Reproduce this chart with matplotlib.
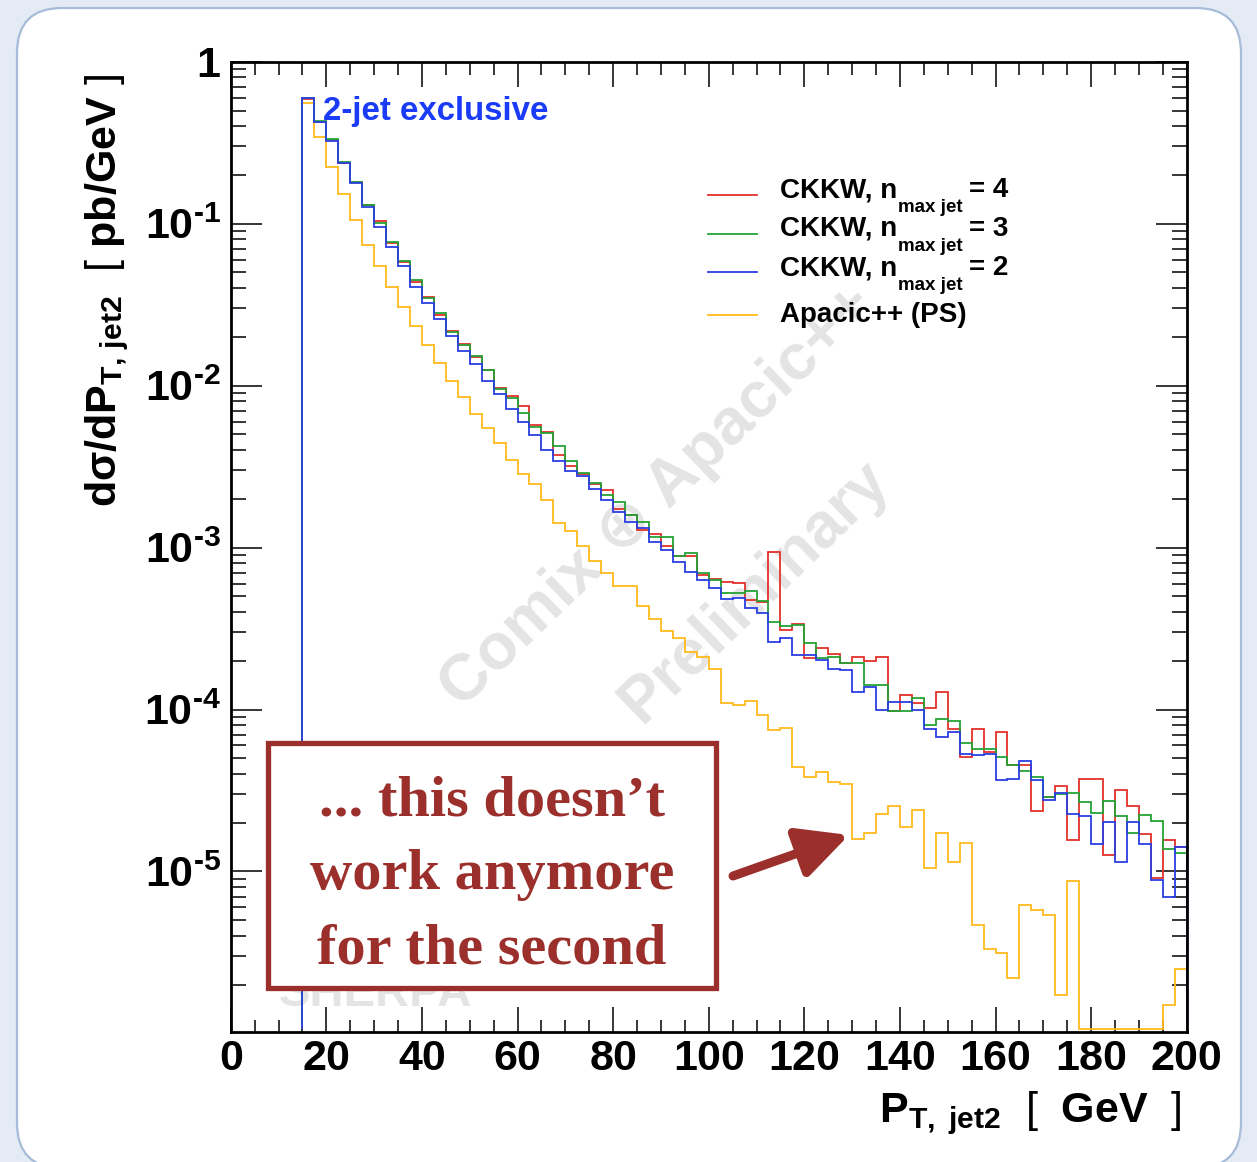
import numpy as np
import matplotlib.pyplot as plt
from matplotlib.lines import Line2D
from matplotlib.patches import FancyBboxPatch, Rectangle
from matplotlib.ticker import FixedLocator, FixedFormatter, LogLocator, NullFormatter, MultipleLocator

plt.rcParams['font.family'] = ['Liberation Sans', 'DejaVu Sans']
plt.rcParams['mathtext.fontset'] = 'custom'
plt.rcParams['mathtext.rm'] = 'Liberation Sans'
plt.rcParams['mathtext.it'] = 'Liberation Sans:italic'
plt.rcParams['mathtext.bf'] = 'Liberation Sans:bold'

# ---- histogram contents, dsigma/dpT of the second jet [pb/GeV], 2.5 GeV bins from 15 GeV ----
edges = np.arange(15.0, 200.01, 2.5)

ckkw4 = [0.589, 0.423, 0.327, 0.237, 0.181, 0.131, 0.104, 0.0756, 0.0580, 0.0438,
         0.0355, 0.0273, 0.0217, 0.0181, 0.0150, 0.0125, 0.00962, 0.00862, 0.00748, 0.00571,
         0.00521, 0.00375, 0.00320, 0.00284, 0.00247, 0.00228, 0.00172, 0.00159, 0.00128, 0.00121,
         1.02e-3, 8.86e-4, 8.84e-4, 6.76e-4, 6.39e-4, 6.12e-4, 6.06e-4, 4.76e-4, 4.63e-4, 9.42e-4,
         3.09e-4, 3.37e-4, 2.07e-4, 2.40e-4, 2.19e-4, 1.94e-4, 2.12e-4, 2.00e-4, 2.12e-4, 9.81e-5,
         1.23e-4, 1.10e-4, 1.02e-4, 1.29e-4, 7.57e-5, 5.10e-5, 7.57e-5, 5.48e-5, 7.28e-5, 4.53e-5,
         4.53e-5, 2.37e-5, 2.90e-5, 3.36e-5, 1.56e-5, 3.70e-5, 3.70e-5, 1.26e-5, 3.18e-5, 2.53e-5,
         1.70e-5, 9.09e-6, 1.56e-5, 1.42e-5]

ckkw3 = [0.600, 0.428, 0.332, 0.239, 0.181, 0.1305, 0.1014, 0.0774, 0.0591, 0.0447,
         0.0346, 0.0280, 0.0215, 0.0179, 0.0152, 0.0125, 0.00960, 0.00844, 0.00675, 0.00557,
         0.00507, 0.00424, 0.00343, 0.00287, 0.00249, 0.00211, 0.00190, 0.00159, 0.00144, 1.156e-3,
         1.156e-3, 8.89e-4, 9.21e-4, 7.01e-4, 6.30e-4, 5.24e-4, 5.24e-4, 5.38e-4, 4.69e-4, 3.48e-4,
         3.27e-4, 3.32e-4, 2.58e-4, 2.07e-4, 2.12e-4, 1.94e-4, 1.94e-4, 1.415e-4, 1.415e-4, 9.81e-5,
         9.81e-5, 1.171e-4, 8.01e-5, 8.69e-5, 8.51e-5, 6.23e-5, 5.69e-5, 5.69e-5, 5.10e-5, 4.53e-5,
         4.18e-5, 3.84e-5, 2.88e-5, 3.00e-5, 3.03e-5, 2.69e-5, 2.28e-5, 2.72e-5, 2.20e-5, 1.72e-5,
         2.24e-5, 2.05e-5, 1.37e-5, 1.30e-5]

ckkw2 = [0.600, 0.423, 0.324, 0.236, 0.178, 0.127, 0.0958, 0.0721, 0.0552, 0.0408,
         0.0325, 0.0257, 0.0202, 0.0164, 0.01365, 0.01067, 0.00887, 0.00717, 0.00598, 0.00495,
         0.00403, 0.00345, 0.00296, 0.00275, 0.00229, 0.00196, 0.00165, 0.00143, 0.00133, 0.00109,
         9.65e-4, 8.19e-4, 7.09e-4, 6.33e-4, 5.60e-4, 4.83e-4, 4.88e-4, 4.21e-4, 3.92e-4, 2.62e-4,
         2.77e-4, 2.17e-4, 2.17e-4, 2.02e-4, 1.79e-4, 1.75e-4, 1.29e-4, 1.38e-4, 9.91e-5, 1.115e-4,
         1.115e-4, 9.91e-5, 7.53e-5, 6.72e-5, 7.28e-5, 5.30e-5, 5.23e-5, 5.30e-5, 3.66e-5, 3.70e-5,
         4.82e-5, 3.66e-5, 2.78e-5, 3.03e-5, 2.25e-5, 2.20e-5, 1.47e-5, 2.02e-5, 1.147e-5, 2.02e-5,
         1.48e-5, 8.84e-6, 6.94e-6, 1.42e-5]

apacic = [0.557, 0.345, 0.225, 0.152, 0.1054, 0.0738, 0.0548, 0.0408, 0.0308, 0.0235,
          0.0179, 0.0139, 0.01075, 0.00854, 0.00668, 0.00547, 0.00440, 0.00346, 0.00284, 0.00246,
          0.00197, 0.00142, 0.00127, 1.021e-3, 8.25e-4, 6.93e-4, 5.81e-4, 5.79e-4, 4.35e-4, 3.60e-4,
          3.05e-4, 2.77e-4, 2.27e-4, 2.12e-4, 1.77e-4, 1.10e-4, 1.065e-4, 1.127e-4, 9.23e-5, 7.46e-5,
          7.64e-5, 4.39e-5, 3.81e-5, 4.09e-5, 3.55e-5, 3.46e-5, 1.576e-5, 1.73e-5, 2.26e-5, 2.53e-5,
          1.885e-5, 2.39e-5, 1.048e-5, 1.72e-5, 1.147e-5, 1.49e-5, 4.66e-6, 3.34e-6, 3.14e-6, 2.21e-6,
          6.25e-6, 5.82e-6, 5.35e-6, 1.72e-6, 8.75e-6, 0, 0, 0, 0, 0,
          0, 0, 1.49e-6, 2.49e-6]

# legend entries: main text, subscript, trailing text
legend_main = ['CKKW, n', 'CKKW, n', 'CKKW, n', 'Apacic++ (PS)']
legend_sub = ['max jet', 'max jet', 'max jet', '']
legend_tail = ['= 4', '= 3', '= 2', '']
colors = ['#e3322b', '#24a235', '#2a3fe0', '#ffbb1c']

ytick_vals = [1e-5, 1e-4, 1e-3, 1e-2, 1e-1, 1]
ytick_text = ['$\\mathbf{10^{\u20105}}$', '$\\mathbf{10^{\u20104}}$', '$\\mathbf{10^{\u20103}}$',
              '$\\mathbf{10^{\u20102}}$', '$\\mathbf{10^{\u20101}}$', '$\\mathbf{1}$']

W, H = 1257, 1162
def fx(x):
    return x / W
def fy(y):
    return 1 - y / H

fig = plt.figure(figsize=(W / 100, H / 100), dpi=100)
fig.patch.set_facecolor('#e4ebf4')

# white slide panel with rounded corners
panel = FancyBboxPatch((0.17, -0.06), 12.24, 11.60,
                       boxstyle='round,pad=0,rounding_size=0.45',
                       transform=fig.dpi_scale_trans, facecolor='white',
                       edgecolor='#a6bcda', linewidth=1.6, zorder=-5)
fig.patches.append(panel)

ax = fig.add_axes([fx(230.7), fy(1032), (1186.7 - 230.7) / W, (1032 - 61.8) / H])
ax.set_facecolor('white')

# empty bins sit on the lower frame, as ROOT draws them
floor = 1.06e-6
series = [(apacic, 3), (ckkw4, 0), (ckkw3, 1), (ckkw2, 2)]
for vals, i in series:
    v = np.clip(np.asarray(vals, dtype=float), floor, None)
    ax.stairs(v, edges, baseline=floor, color=colors[i], lw=1.3, zorder=3)

ax.set_yscale('log')
ax.set_xlim(0, 200)
ax.set_ylim(1.02e-6, 1.0)

ax.yaxis.set_major_locator(FixedLocator(ytick_vals))
ax.yaxis.set_major_formatter(FixedFormatter(ytick_text))
ax.yaxis.set_minor_locator(LogLocator(base=10, subs=np.arange(2, 10), numticks=20))
ax.yaxis.set_minor_formatter(NullFormatter())
ax.xaxis.set_major_locator(MultipleLocator(20))
ax.xaxis.set_minor_locator(MultipleLocator(5))

ax.tick_params(axis='both', which='both', direction='in', top=True, right=True,
               colors='black', width=1.1)
ax.tick_params(axis='y', which='major', length=22, pad=7, labelsize=31)
ax.tick_params(axis='y', which='minor', length=11)
ax.tick_params(axis='x', which='major', length=18, pad=5, labelsize=31)
ax.tick_params(axis='x', which='minor', length=9)
for lab in ax.get_xticklabels():
    lab.set_fontweight('bold')
for sp in ax.spines.values():
    sp.set_linewidth(2.0)
    sp.set_zorder(4)

# axis titles
fig.text(fx(107), fy(290), r'$\mathbf{d\sigma/dP_{T,\,jet2}}$  [ $\mathbf{pb/GeV}$ ]',
         rotation=90, ha='center', va='center', fontsize=31)
fig.text(fx(1182), fy(1122), r'$\mathbf{P_{T,\ jet2}}$  [  $\mathbf{GeV}$  ]',
         ha='right', va='baseline', fontsize=31)

ax.text(fx(323), fy(120), '2-jet exclusive', transform=fig.transFigure,
        color='#1a3bf7', fontsize=23.8, fontweight='bold', zorder=5)

# watermark
wm = dict(transform=fig.transFigure, color='#e4e4e4', fontweight='bold',
          ha='center', va='center', zorder=1)
ax.text(fx(658), fy(497), 'Comix \u2295 Apacic++', rotation=44, fontsize=47, **wm)
ax.text(fx(755), fy(592), 'Preliminary', rotation=44, fontsize=46, **wm)
ax.text(fx(375), fy(994), 'SHERPA', fontsize=34, **wm)

# legend
line_y = [195, 234, 272, 315]
text_base = [197, 236, 275, 322]
for i in range(4):
    fig.add_artist(Line2D([fx(708), fx(757)], [fy(line_y[i])] * 2,
                          transform=fig.transFigure, color=colors[i], lw=1.3))
    fig.text(fx(780), fy(text_base[i]), legend_main[i], fontsize=20,
             fontweight='bold', va='baseline')
    if legend_sub[i]:
        fig.text(fx(898), fy(text_base[i] + 15), legend_sub[i], fontsize=13.5,
                 fontweight='bold', va='baseline')
        fig.text(fx(969), fy(text_base[i]), legend_tail[i], fontsize=20,
                 fontweight='bold', va='baseline')

# comment box and arrow
dark_red = '#9b2f2b'
box = Rectangle((fx(268), fy(988)), (716 - 268) / W, (988 - 743) / H,
                transform=fig.transFigure, facecolor='white', edgecolor=dark_red,
                linewidth=3.8, zorder=6)
fig.patches.append(box)
for txt, yb in [("... this doesn\u2019t", 815), ('work anymore', 889), ('for the second', 963)]:
    fig.text(fx(492), fy(yb), txt, ha='center', va='baseline', fontsize=42,
             family='Liberation Serif', fontweight='bold', color=dark_red, zorder=7)

ax.annotate('', xy=(fx(849), fy(835)), xycoords='figure fraction',
            xytext=(fx(733), fy(876)), textcoords='figure fraction',
            arrowprops=dict(arrowstyle='-|>,head_length=0.9,head_width=0.45',
                            color=dark_red, lw=6.5, mutation_scale=34,
                            shrinkA=0, shrinkB=0), zorder=7)

fig.savefig('out.png', dpi=100, facecolor=fig.get_facecolor())
